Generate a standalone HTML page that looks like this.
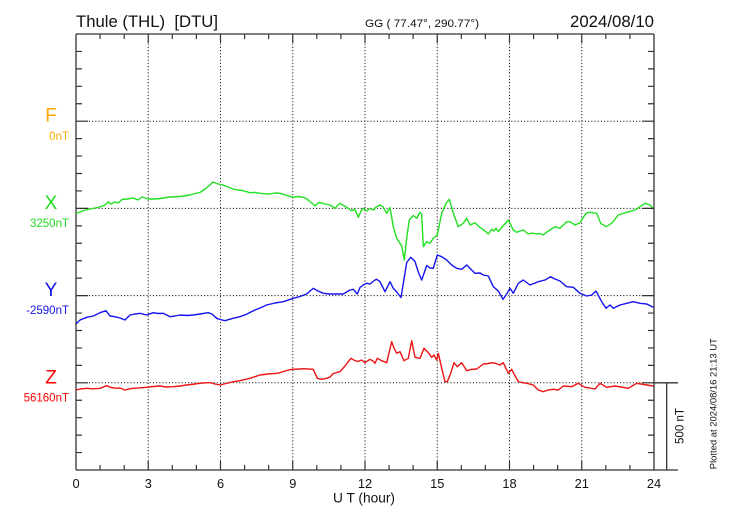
<!DOCTYPE html>
<html><head><meta charset="utf-8"><style>
html,body{margin:0;padding:0;background:#fff;}
svg{display:block;font-family:"Liberation Sans",Arial,sans-serif;}
</style></head><body>
<svg width="730" height="520" viewBox="0 0 730 520" xmlns="http://www.w3.org/2000/svg">
<rect width="730" height="520" fill="#fff"/>
<!-- titles -->
<text x="76" y="27" font-size="16.5" fill="#111" textLength="142" lengthAdjust="spacingAndGlyphs">Thule (THL)&#160;&#160;[DTU]</text>
<text x="365" y="27" font-size="11" fill="#111" textLength="114" lengthAdjust="spacingAndGlyphs">GG ( 77.47°, 290.77°)</text>
<text x="654" y="27" font-size="16.5" fill="#111" text-anchor="end" textLength="84" lengthAdjust="spacingAndGlyphs">2024/08/10</text>

<!-- grid -->
<g stroke="#222" stroke-width="1" stroke-dasharray="1.2,2" fill="none">
<line x1="76" y1="121.2" x2="654" y2="121.2"/>
<line x1="76" y1="208.4" x2="654" y2="208.4"/>
<line x1="76" y1="295.6" x2="654" y2="295.6"/>
<line x1="76" y1="382.8" x2="654" y2="382.8"/>
<line x1="148.25" y1="34" x2="148.25" y2="470"/>
<line x1="220.5" y1="34" x2="220.5" y2="470"/>
<line x1="292.75" y1="34" x2="292.75" y2="470"/>
<line x1="365" y1="34" x2="365" y2="470"/>
<line x1="437.25" y1="34" x2="437.25" y2="470"/>
<line x1="509.5" y1="34" x2="509.5" y2="470"/>
<line x1="581.75" y1="34" x2="581.75" y2="470"/>
</g>

<!-- frame -->
<g stroke="#333" stroke-width="1.3" fill="none">
<line x1="76" y1="34" x2="654" y2="34"/>
<line x1="76" y1="34" x2="76" y2="470"/>
<line x1="654" y1="34" x2="654" y2="470"/>
<line x1="76" y1="470" x2="678" y2="470"/>
<line x1="654" y1="382.8" x2="678" y2="382.8"/>
<line x1="666.7" y1="382.8" x2="666.7" y2="470"/>
</g>

<!-- series -->
<g fill="none" stroke-width="1.4" stroke-linejoin="round">
<polyline stroke="#22e022" points="76,213.5 80,212 85,210 90,209 95,208 100,207 105,205 108,202 111,204 115,202 118,203 122,199.5 127,199 133,198 138,200 142,197 148,199 155,199 160,198.5 170,197 180,196.5 190,195 195,193.5 200,192.5 205,189 210,185 213,182 218,184 223,185 228,187 233,189 238,190 243,190.7 250,192.7 255,192.5 260,193.3 265,193.8 270,194 275,193 280,193.3 286.7,195.3 293.3,197.3 298,196.5 303.3,197.3 307,199 310,201.7 313,204 315,206 318,203 320,202.7 325,204 330,205 335,208.3 338,205 340,203.3 343,205 346.7,207.3 349,209 351.7,210.7 355,209.3 358.3,217.3 361,211 363.3,208.3 366.7,211 370,208.5 373.3,210 376,207 380,205 383,206.7 386.7,213.3 390,207.5 393.3,226.7 396.7,238.3 399,241.7 401.7,246 404.3,260 406.7,238 409.3,220 413.3,215.5 416.7,218.3 420,212.3 421.7,214 423.3,246.7 426.7,241.7 430,243.3 433.3,238.3 437.3,235 441.7,213.3 446,203.3 449.3,199.3 453.3,213.3 458.3,226.7 463.3,223.3 466.7,218.3 470,225 475,222.7 480,227.5 484,230 488.3,234 491.7,229.3 494,231 496,228.3 498.3,231.7 503,226 508.3,220 513.3,230 516.7,232.3 520,231 523.3,230 528.3,234 532,233 536.7,234 540,233.5 543.3,235 547,232 550,230 555,226.7 560,228.3 566.7,221.7 570,221.7 575,225 580,222.7 586,213.3 590,212.3 596.7,213.3 600.7,223.3 606,226.7 611.7,223.3 618.3,215 626.7,212.3 635,210 640,206.7 645,203.3 650,205 653.3,209"/>
<polyline stroke="#1414ee" points="76,324 80,320 86.7,317.3 93.3,316 100,312.7 106,310.7 110,316 115,316.7 120,318 125,320 130,315 135,314 140,313.3 146.7,315 153.3,312.7 158,313.5 163.3,313.3 170,316.7 175,316 180,315 187,315.5 193.3,315 200,314 208.3,312.7 212,314 216.7,318.3 220,319.5 225,320.7 233,318.3 240,316.7 246,314.5 253.3,310.7 260,308 266.7,305 275,303 283.3,301.7 293.3,298.3 300,296.5 306.7,294 310,291 313.3,288.3 318,291 323.3,293.3 330,294 337,294 343.3,294 350,290 353.3,289.3 357.3,294 360,287.5 363.3,285 366.7,283.3 370,284 375,280 376.7,279.3 380,281.7 385,291.7 390,281.7 393.3,288.3 396.7,292 401,297.5 406.7,262.5 410.7,257.3 415,261.5 418.3,272 421.7,280 426.7,265.5 430,268 433.3,268.3 437.3,255 441.7,256.7 446.7,260 451.7,265 456.7,268.3 461.7,269.3 466.7,265 471.7,270 475,273.3 480,273 483.3,275 488.3,276 493.3,286.7 498.3,291 503,299.3 506.7,294 510,288.3 513.3,293.3 518.3,283.3 523.3,280 530,285 538.3,281.7 545,280 550.7,276.7 555,279 560,281 566.7,286.7 573.3,287.3 580,293.3 586.7,296 591.7,295 596,291 601.7,301.7 606,308.3 610,305 613.3,308.3 620,305 626.7,303.3 633.3,301.7 640,303.3 646.7,304 653.3,307.3"/>
<polyline stroke="#ee1414" points="76,390 80,389 86.7,388.3 93,388.8 100,388.3 106.7,385.7 111,387.5 116.7,388.3 120,388 125,390 129,389 133.3,388.3 140,387.8 146.7,387.3 153,386.5 160,386 166,387 173.3,386.7 180,386 186.7,385 195,384 200,383.3 206.7,382.7 210,382.7 215,384 220,385 226,383.5 233.3,381.7 240,380.7 250,378.3 260,375 268,374 276.7,373.3 280,372.7 285,371 291.7,369.3 300,369 303.3,368.7 313.3,369.3 317.3,378.3 321.7,379.3 326.7,378.3 330,377 333.3,373.5 340,371.7 345,366 348,362 351,358.3 355,360.7 358,361.5 361.7,360 365,362.7 370,359.3 373,361 375,363.3 377.3,358.3 381.7,360.7 386.7,362.7 391.7,341.7 394,348 396.7,353.3 400,351.7 404,360.7 408.3,358.3 411.7,340.7 415,357.3 420,358.3 424,348.3 428.3,352.7 431.7,357.3 434,355 436.7,360 438.3,353.3 441.7,368.3 445,381.7 447.3,381.7 450.7,373.3 454,362.7 457.3,366.7 461.7,362.7 466.7,370.7 471,369.5 476.7,369 483.3,364 488,363.5 493.3,362.7 500,365 503.3,362.7 508.3,373.3 511.7,369.3 514,374 518.3,381.5 522,382.5 526.7,383.3 533.3,385 538.3,390 543.3,391.7 548,390 553.3,389.3 558.3,390 563.3,386 571.7,386.7 578.3,383.3 585,387.3 590,388 595,389 600,383.3 606.7,387.3 615,386 621,387 628.3,388.3 636.7,383.3 646.7,385 653.3,386"/>
</g>

<!-- channel labels -->
<g text-anchor="middle" font-size="19">
<text x="51" y="121.5" fill="#ffaa00">F</text>
<text x="51" y="209" fill="#22dd22">X</text>
<text x="51" y="296" fill="#1414e6">Y</text>
<text x="51" y="383.3" fill="#ff0000">Z</text>
</g>
<g text-anchor="end" font-size="11.5">
<text x="69" y="140" fill="#ffaa00">0nT</text>
<text x="69" y="227" fill="#22dd22">3250nT</text>
<text x="69" y="314" fill="#1414e6">-2590nT</text>
<text x="69" y="401.5" fill="#ff0000">56160nT</text>
</g>

<!-- x labels -->
<g text-anchor="middle" font-size="12.8" fill="#111">
<text x="76" y="488">0</text>
<text x="148.25" y="488">3</text>
<text x="220.5" y="488">6</text>
<text x="292.75" y="488">9</text>
<text x="365" y="488">12</text>
<text x="437.25" y="488">15</text>
<text x="509.5" y="488">18</text>
<text x="581.75" y="488">21</text>
<text x="654" y="488">24</text>
</g>
<text x="364" y="502.5" font-size="13.5" text-anchor="middle" fill="#111" textLength="62" lengthAdjust="spacingAndGlyphs">U T (hour)</text>

<!-- scale + plotted -->
<text transform="translate(683.3,426) rotate(-90)" font-size="12" text-anchor="middle" fill="#111" textLength="36" lengthAdjust="spacingAndGlyphs">500 nT</text>
<text transform="translate(716.5,403.7) rotate(-90)" font-size="9.6" text-anchor="middle" fill="#111" textLength="131" lengthAdjust="spacingAndGlyphs">Plotted at 2024/08/16 21:13 UT</text>

<g stroke="#333" stroke-width="1.2">
<path d="M76 51.44h6M76 68.88h6M76 86.32h6M76 103.76h6M76 121.2h12M76 138.64h6M76 156.08h6M76 173.52h6M76 190.96h6M76 208.4h12M76 225.84h6M76 243.28h6M76 260.72h6M76 278.16h6M76 295.6h12M76 313.04h6M76 330.48h6M76 347.92h6M76 365.36h6M76 382.8h12M76 400.24h6M76 417.68h6M76 435.12h6M76 452.56h6"/>
<path d="M654 51.44h-6M654 68.88h-6M654 86.32h-6M654 103.76h-6M654 121.2h-12M654 138.64h-6M654 156.08h-6M654 173.52h-6M654 190.96h-6M654 208.4h-12M654 225.84h-6M654 243.28h-6M654 260.72h-6M654 278.16h-6M654 295.6h-12M654 313.04h-6M654 330.48h-6M654 347.92h-6M654 365.36h-6M654 382.8h-12M654 400.24h-6M654 417.68h-6M654 435.12h-6M654 452.56h-6"/>
<path d="M100.08 34v5M124.17 34v5M148.25 34v9M172.33 34v5M196.42 34v5M220.5 34v9M244.58 34v5M268.67 34v5M292.75 34v9M316.83 34v5M340.92 34v5M365 34v9M389.08 34v5M413.17 34v5M437.25 34v9M461.33 34v5M485.42 34v5M509.5 34v9M533.58 34v5M557.67 34v5M581.75 34v9M605.83 34v5M629.92 34v5"/>
<path d="M100.08 470v-5M124.17 470v-5M148.25 470v-9M172.33 470v-5M196.42 470v-5M220.5 470v-9M244.58 470v-5M268.67 470v-5M292.75 470v-9M316.83 470v-5M340.92 470v-5M365 470v-9M389.08 470v-5M413.17 470v-5M437.25 470v-9M461.33 470v-5M485.42 470v-5M509.5 470v-9M533.58 470v-5M557.67 470v-5M581.75 470v-9M605.83 470v-5M629.92 470v-5"/>
</g>
</svg>
</body></html>
